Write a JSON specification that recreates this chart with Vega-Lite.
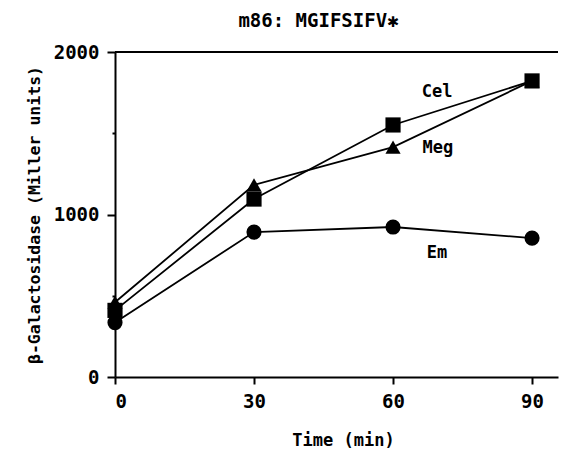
{
  "$schema": "https://vega.github.io/schema/vega-lite/v6.json",
  "autosize": {"type": "none"},
  "padding": {"left": 115, "top": 52, "right": 10, "bottom": 79},
  "width": 443,
  "height": 325,
  "background": "white",
  "config": {
    "view": {"stroke": null},
    "font": "DejaVu Sans Mono",
    "axis": {
      "domainColor": "black", "domainWidth": 2, "tickColor": "black", "tickWidth": 2,
      "labelColor": "black", "titleColor": "black", "grid": false,
      "labelFont": "DejaVu Sans Mono", "titleFont": "DejaVu Sans Mono",
      "labelFontSize": 19, "labelFontWeight": "bold", "titleFontSize": 16, "titleFontWeight": "bold"
    }
  },
  "title": {
    "text": "m86: MGIFSIFV✱",
    "fontSize": 19, "fontWeight": "bold", "font": "DejaVu Sans Mono", "color": "black",
    "anchor": "middle", "dx": -18, "offset": 12
  },
  "datasets": {
    "series": [
      {"series": "Cel", "time": 0, "value": 410},
      {"series": "Cel", "time": 30, "value": 1095},
      {"series": "Cel", "time": 60, "value": 1551},
      {"series": "Cel", "time": 90, "value": 1822},
      {"series": "Meg", "time": 0, "value": 460},
      {"series": "Meg", "time": 30, "value": 1182},
      {"series": "Meg", "time": 60, "value": 1415},
      {"series": "Meg", "time": 90, "value": 1822},
      {"series": "Em", "time": 0, "value": 335},
      {"series": "Em", "time": 30, "value": 892},
      {"series": "Em", "time": 60, "value": 923},
      {"series": "Em", "time": 90, "value": 855}
    ],
    "labels": [
      {"label": "Cel", "time": 69.5, "value": 1754},
      {"label": "Meg", "time": 69.7, "value": 1409},
      {"label": "Em", "time": 69.5, "value": 763}
    ]
  },
  "layer": [
    {
      "data": {"name": "series"},
      "mark": {"type": "line", "color": "black", "strokeWidth": 1.8},
      "encoding": {
        "x": {"field": "time", "type": "quantitative",
          "scale": {"domain": [0, 95.6], "nice": false, "zero": false},
          "axis": {"values": [0, 30, 60, 90], "title": "Time (min)", "titleFontSize": 17, "titleX": 228, "tickSize": 7, "labelPadding": 8, "titlePadding": 21}},
        "y": {"field": "value", "type": "quantitative",
          "scale": {"domain": [0, 2000], "nice": false},
          "axis": {"values": [0, 500, 1000, 1500, 2000], "format": "d",
            "labelExpr": "datum.value % 1000 === 0 ? datum.label : ''",
            "tickSize": {"condition": {"test": "datum.value % 1000 === 0", "value": 8}, "value": 3},
            "labelPadding": 8,
            "title": "β-Galactosidase (Miller units)", "titleFontSize": 16.5, "titlePadding": 11}},
        "detail": {"field": "series"},
        "order": {"field": "time"}
      }
    },
    {
      "data": {"name": "series"},
      "mark": {"type": "point", "filled": true, "color": "black", "opacity": 1},
      "encoding": {
        "x": {"field": "time", "type": "quantitative"},
        "y": {"field": "value", "type": "quantitative"},
        "shape": {"field": "series", "type": "nominal",
          "scale": {"domain": ["Cel", "Meg", "Em"], "range": ["square", "triangle-up", "circle"]},
          "legend": null},
        "size": {"value": 230}
      }
    },
    {
      "data": {"name": "labels"},
      "mark": {"type": "text", "color": "black", "fontSize": 17, "fontWeight": "bold", "font": "DejaVu Sans Mono", "align": "center", "baseline": "middle"},
      "encoding": {
        "x": {"field": "time", "type": "quantitative"},
        "y": {"field": "value", "type": "quantitative"},
        "text": {"field": "label"}
      }
    },
    {
      "data": {"values": [{"v": 0}]},
      "mark": {"type": "rule", "color": "black", "strokeWidth": 2},
      "encoding": {
        "y": {"datum": 2000, "type": "quantitative"}
      }
    }
  ],
  "resolve": {"scale": {"shape": "independent"}}
}
